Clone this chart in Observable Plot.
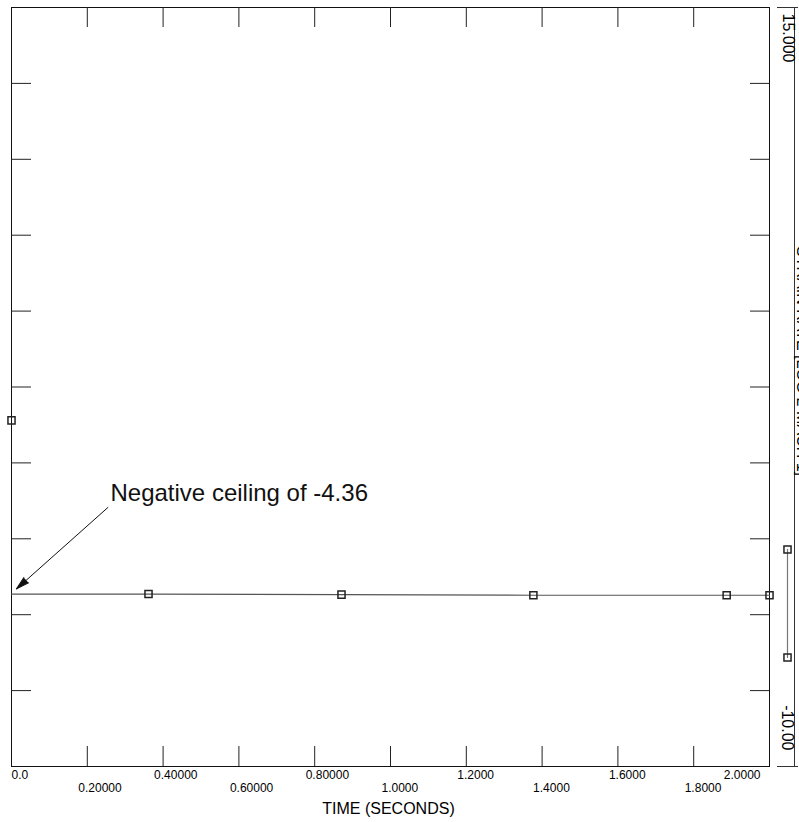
<!DOCTYPE html>
<html><head><meta charset="utf-8">
<script src="https://cdn.jsdelivr.net/npm/d3@7"></script>
<script src="https://cdn.jsdelivr.net/npm/@observablehq/plot@0.6"></script>
<style>body{margin:0;background:#fff;}</style>
</head><body><div id="chart"></div>
<script>
// ---- data ----
const xDomain = [0, 2];
const yDomain = [-10, 15];
const xTickValues = [0, 0.2, 0.4, 0.6, 0.8, 1.0, 1.2, 1.4, 1.6, 1.8, 2.0];
const xTickLabels = ["0.0", "0.20000", "0.40000", "0.60000", "0.80000", "1.0000", "1.2000", "1.4000", "1.6000", "1.8000", "2.0000"];
const yTickValues = [-7.5, -5, -2.5, 0, 2.5, 5, 7.5, 10, 12.5];
const yEndLabels = ["-10.00", "15.000"];
const xAxisTitle = "TIME (SECONDS)";
const yAxisTitle = "STRAIN RATE [LOG 2 MACH 1]";
const seriesX = [0, 0.3615, 0.8707, 1.377, 1.887, 2.0];
const seriesY = [-4.32, -4.32, -4.34, -4.36, -4.36, -4.36];
const startPointX = [0];
const startPointY = [1.40];
const rangeX = [2.0475, 2.0475];
const rangeY = [-2.85, -6.41];
const annotationText = ["Negative ceiling of -4.36"];
const annotationXY = [0.2612, -1.27];
const arrowFrom = [0.2551, -1.46];
const arrowTo = [0.0132, -4.15];

// ---- tables ----
const series = seriesX.map((x, i) => ({x, y: seriesY[i]}));
const startPts = startPointX.map((x, i) => ({x, y: startPointY[i]}));
const rangePts = rangeX.map((x, i) => ({x, y: rangeY[i]}));
const xLabels = xTickValues.map((v, i) => ({v, label: xTickLabels[i], i}));
const n = xLabels.length;
const innerX = xTickValues.slice(1, -1);
const arrow = [{x1: arrowFrom[0], y1: arrowFrom[1], x2: arrowTo[0], y2: arrowTo[1]}];
const arrowAngle = (() => {
  // angle measured in pixels is computed after render-independent estimate via scales below
  return null;
})();

const W = 799, H = 822, mL = 11, mR = 30, mT = 7, mB = 56;
const fw = W - mL - mR, fh = H - mT - mB;
const tickLen = 20;
const font = "'Liberation Sans', Arial, Helvetica, sans-serif";

// direction of arrow in pixel space (using the same linear mapping Plot uses)
const sx = d3.scaleLinear(xDomain, [mL, W - mR]);
const sy = d3.scaleLinear(yDomain, [H - mB, mT]);
const ddx = sx(arrowTo[0]) - sx(arrowFrom[0]);
const ddy = sy(arrowTo[1]) - sy(arrowFrom[1]);
const headRotate = Math.atan2(ddx, -ddy) * 180 / Math.PI;

const chart = Plot.plot({
  width: W, height: H,
  marginLeft: mL, marginRight: mR, marginTop: mT, marginBottom: mB,
  x: {domain: xDomain, axis: null},
  y: {domain: yDomain, axis: null},
  style: {fontFamily: font, fontSize: "12px", background: "white", color: "black"},
  marks: [
    Plot.frame({stroke: "#111"}),
    // inward ticks
    Plot.tickX(innerX, {x: d => d, insetTop: fh - tickLen, stroke: "#222"}),
    Plot.tickX(innerX, {x: d => d, insetBottom: fh - tickLen, stroke: "#222"}),
    Plot.tickY(yTickValues, {y: d => d, insetRight: fw - tickLen, stroke: "#222"}),
    Plot.tickY(yTickValues, {y: d => d, insetLeft: fw - tickLen + 1, stroke: "#222"}),
    // x tick labels, two staggered rows
    Plot.text(xLabels.filter(d => d.i === 0), {x: "v", text: "label", frameAnchor: "bottom", dy: 12, textAnchor: "start", lineAnchor: "bottom", fontSize: 12}),
    Plot.text(xLabels.filter(d => d.i > 0 && d.i < n - 1 && d.i % 2 === 0), {x: "v", text: "label", frameAnchor: "bottom", dy: 12, dx: -9, textAnchor: "start", lineAnchor: "bottom", fontSize: 12}),
    Plot.text(xLabels.filter(d => d.i % 2 === 1), {x: "v", text: "label", frameAnchor: "bottom", dy: 25, dx: -9, textAnchor: "start", lineAnchor: "bottom", fontSize: 12}),
    Plot.text(xLabels.filter(d => d.i === n - 1), {x: "v", text: "label", frameAnchor: "bottom", dy: 12, dx: -9, textAnchor: "end", lineAnchor: "bottom", fontSize: 12}),
    Plot.text([xAxisTitle], {frameAnchor: "bottom", dy: 47, dx: -2, lineAnchor: "bottom", fontSize: 16}),
    // right-hand scale
    Plot.ruleX([xDomain[1]], {dx: 25, y1: yDomain[0], y2: yDomain[1], stroke: "#333"}),
    Plot.ruleY(yDomain, {x1: xDomain[1], x2: xDomain[1], insetLeft: 8, insetRight: -29, stroke: "#333"}),
    Plot.text([yEndLabels[1]], {frameAnchor: "top-right", dx: 13, dy: 6, rotate: 90, textAnchor: "start", lineAnchor: "bottom", fontSize: 16}),
    Plot.text([yEndLabels[0]], {frameAnchor: "bottom-right", dx: 12, dy: -16, rotate: 90, textAnchor: "end", lineAnchor: "bottom", fontSize: 16}),
    Plot.text([yAxisTitle], {frameAnchor: "right", dx: 27, dy: -26, rotate: 90, textAnchor: "middle", lineAnchor: "bottom", fontSize: 16}),
    // range indicator at right
    Plot.line(rangePts, {x: "x", y: "y", stroke: "#777", strokeWidth: 1.2}),
    Plot.dot(rangePts, {x: "x", y: "y", symbol: "square", r: 4, stroke: "#222", fill: "none"}),
    // data series
    Plot.line(series, {x: "x", y: "y", stroke: "#555", strokeWidth: 1.2}),
    Plot.dot(series.slice(1), {x: "x", y: "y", symbol: "square", r: 4, stroke: "#222", fill: "none"}),
    Plot.dot(startPts, {x: "x", y: "y", symbol: "square", r: 4, stroke: "#222", fill: "none"}),
    // annotation
    Plot.text(annotationText, {x: annotationXY[0], y: annotationXY[1], textAnchor: "start", lineAnchor: "bottom", fontSize: 24, fill: "#111"}),
    Plot.link(arrow, {x1: "x1", y1: "y1", x2: "x2", y2: "y2", stroke: "#111", strokeWidth: 1}),
    Plot.vector([arrowTo], {x: d => d[0], y: d => d[1], anchor: "end", shape: "spike", length: 13, r: 3.5, rotate: headRotate, stroke: "#111", fill: "#111", strokeWidth: 1})
  ]
});
document.getElementById("chart").appendChild(chart);
</script>
</body></html>
